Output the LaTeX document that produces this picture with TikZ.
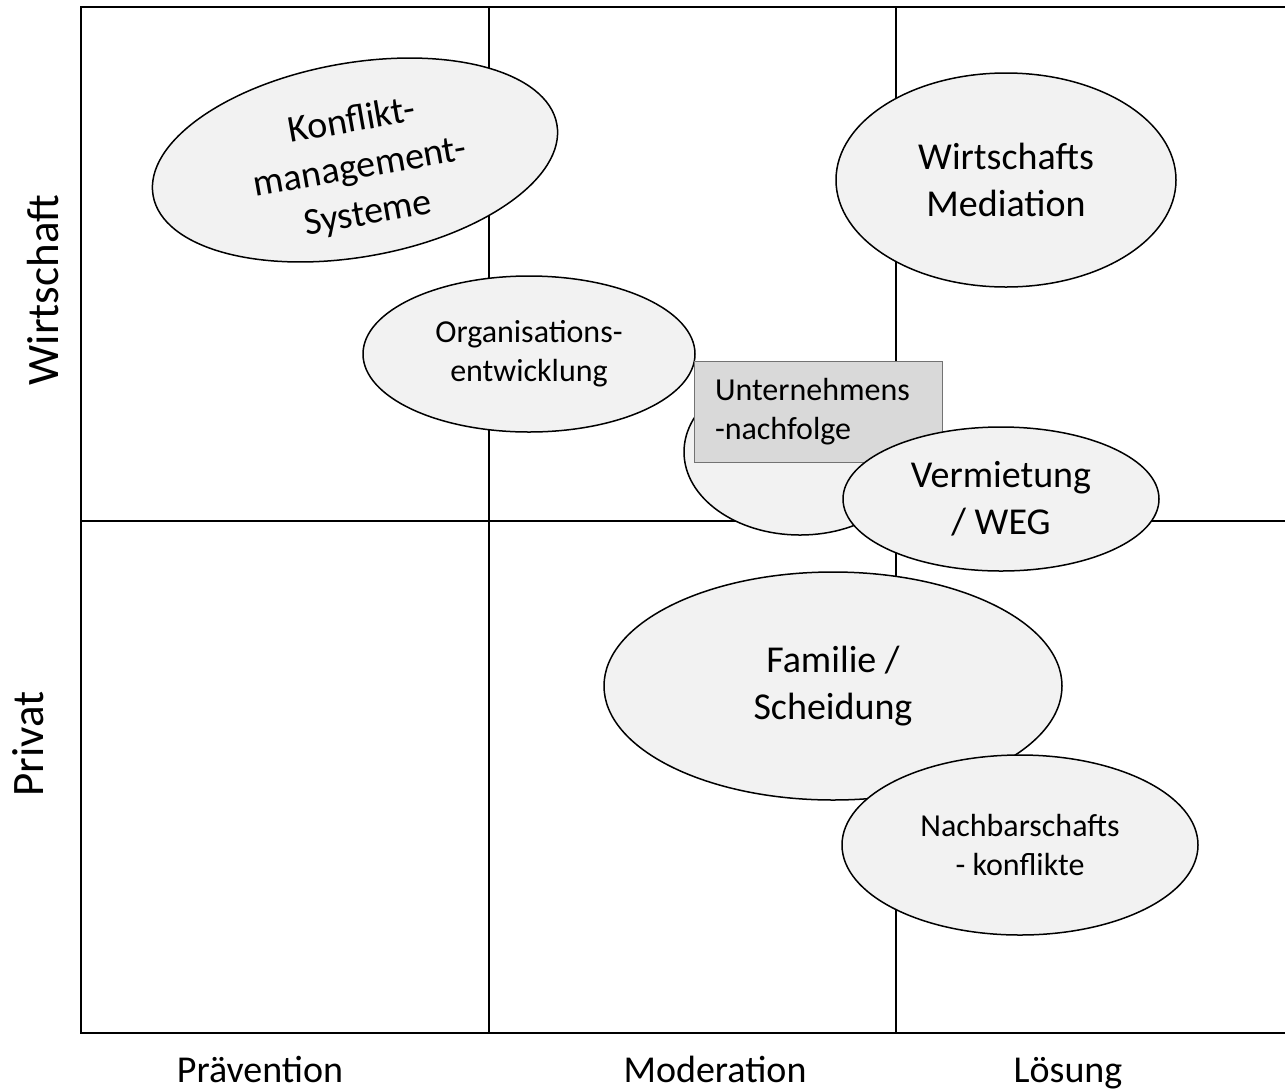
\documentclass[tikz,border=0pt]{standalone}
\usepackage{fontspec}
\setmainfont{Carlito}
\usetikzlibrary{shapes.geometric}
\begin{document}
\begin{tikzpicture}[x=1pt,y=-1pt,
  gridline/.style={line width=2pt, line cap=rect},
  bubble/.style={ellipse, draw=black, line width=1.5pt, fill=black!5, inner sep=0pt},
  bigtext/.style={font=\fontsize{38}{47}\selectfont, align=center},
  midtext/.style={font=\fontsize{32}{39}\selectfont, align=center},
  axislabel/.style={font=\fontsize{38}{46}\selectfont, inner sep=0pt},
  sidelabel/.style={font=\fontsize{45}{50}\selectfont, inner sep=0pt, rotate=90, anchor=base},
  notebox/.style={rectangle, draw=black!55, line width=1pt, fill=black!15,
    font=\fontsize{32}{39}\selectfont, align=left, text width=206pt,
    inner xsep=21pt, minimum height=101pt}]
\useasboundingbox (0,0) rectangle (1285,1088);
% grid
\coordinate (tl) at (81,7);
\coordinate (bl) at (81,1033);
\coordinate (tr) at (1285,7);
\coordinate (br) at (1285,1033);
\coordinate (ml) at (81,521);
\coordinate (mr) at (1285,521);
\coordinate (v1t) at (489,7);
\coordinate (v1b) at (489,1033);
\coordinate (v2t) at (896,7);
\coordinate (v2b) at (896,1033);
\draw[gridline] (tr) -- (tl) -- (bl) -- (br);
\draw[gridline] (ml) -- (mr);
\draw[gridline] (v1t) -- (v1b);
\draw[gridline] (v2t) -- (v2b);
% axis labels
\node[sidelabel] (wirt) at (58,290) {Wirtschaft};
\node[sidelabel] (priv) at (43,744) {Privat};
\node[axislabel, anchor=base] (prae) at (260,1082) {Prävention};
\node[axislabel, anchor=base] (mode) at (715,1082) {Moderation};
\node[axislabel, anchor=base] (loes) at (1068,1082) {Lösung};
% bubbles
\node[bubble, rotate=10, minimum width=410pt, minimum height=194pt] (kms) at (355,160) {};
\node[bigtext, rotate=10] (kmstext) at (360,168) {Konflikt-\\management-\\Systeme};
\node[bubble, midtext, minimum width=332pt, minimum height=156pt] (org) at (529,354) {Organisations-\\entwicklung};
\node[bubble, bigtext, minimum width=340pt, minimum height=214pt] (wmed) at (1006,180) {Wirtschafts\\Mediation};
\node[bubble, minimum width=232pt, minimum height=166pt] (unell) at (800,452) {};
\node[notebox] (unbox) at (818,411.5) {Unternehmens\\-nachfolge};
\node[bubble, bigtext, minimum width=316pt, minimum height=144pt] (verm) at (1001,499) {Vermietung\\/ WEG};
\node[bubble, bigtext, minimum width=458pt, minimum height=228pt] (fam) at (833,686) {Familie /\\Scheidung};
\node[bubble, midtext, minimum width=356pt, minimum height=180pt] (nach) at (1020,845) {Nachbarschafts\\- konflikte};
\end{tikzpicture}
\end{document}
